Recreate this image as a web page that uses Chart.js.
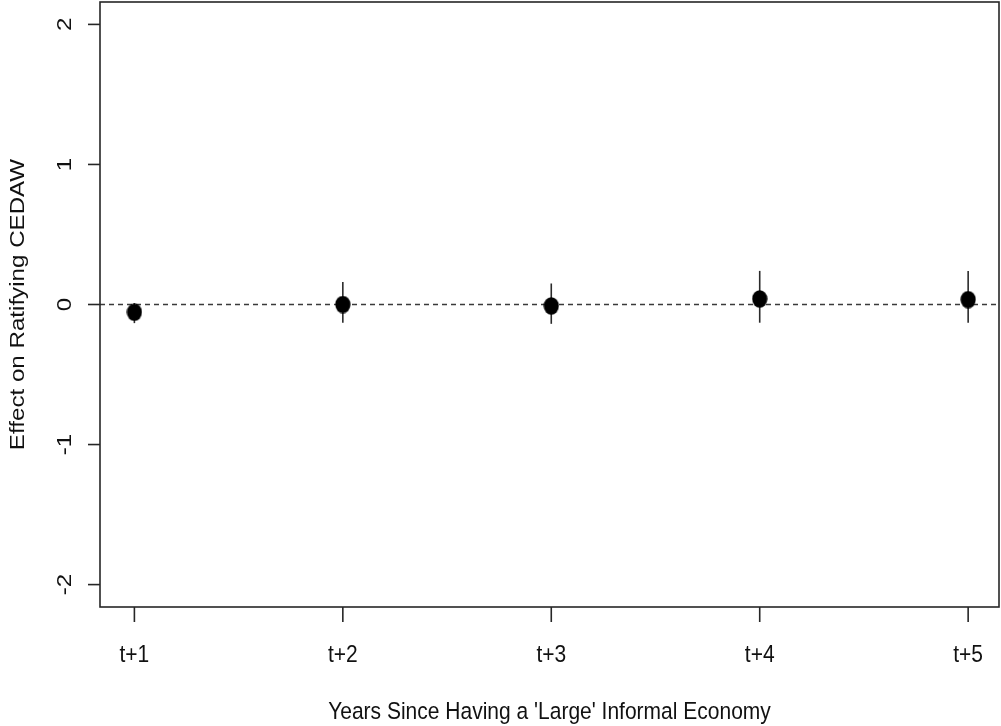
<!DOCTYPE html>
<html>
<head>
<meta charset="utf-8">
<title>Effect on Ratifying CEDAW</title>
<script src="https://cdn.jsdelivr.net/npm/chart.js@4.4.1/dist/chart.umd.min.js"></script>
<style>
  html, body { margin: 0; padding: 0; background: #ffffff; }
  #wrap { width: 1001px; height: 726px; }
</style>
</head>
<body>
<div id="wrap"><canvas id="chart" width="1001" height="726"></canvas></div>
<script>
// Years after the informal economy became "large"
const categories = ['t+1', 't+2', 't+3', 't+4', 't+5'];
const xPositions = [1, 2, 3, 4, 5];

// Point estimates and interval bounds
const estimates = [-0.055, 0.0, -0.01, 0.04, 0.035];
const lowerBounds = [-0.133, -0.13, -0.138, -0.13, -0.13];
const upperBounds = [0.01, 0.16, 0.15, 0.24, 0.24];

// Axis ticks
const yTickValues = [-2, -1, 0, 1, 2];
const yTickLabels = ['-2', '-1', '0', '1', '2'];

const xTitle = "Years Since Having a 'Large' Informal Economy";
const yTitle = 'Effect on Ratifying CEDAW';

const X_MIN = 0.835, X_MAX = 5.148;
const Y_MIN = -2.16, Y_MAX = 2.16;

const FONT = '21px "Liberation Sans", Arial, Helvetica, sans-serif';
const TEXT_STRETCH = 1.15;

// Solid oval marker
function makeMarker() {
  const c = document.createElement('canvas');
  c.width = 16; c.height = 18;
  const g = c.getContext('2d');
  g.fillStyle = '#000';
  g.beginPath();
  g.ellipse(8, 9, 7.6, 8.7, 0, 0, Math.PI * 2);
  g.fill();
  return c;
}
const marker = makeMarker();

// One vertical segment per interval
const intervalSets = xPositions.map((x, i) => ({
  type: 'line',
  data: [{ x: x, y: lowerBounds[i] }, { x: x, y: upperBounds[i] }],
  borderColor: '#2b2b2b',
  borderWidth: 1.6,
  pointRadius: 0,
  order: 1
}));

// Axes, frame and labels drawn from the chart's own scales
const framePlugin = {
  id: 'frameAxes',
  afterDraw(chart) {
    const { ctx, chartArea: a, scales } = chart;
    const xs = scales.x, ys = scales.y;
    ctx.save();
    ctx.strokeStyle = '#262626';
    ctx.lineWidth = 1.6;
    ctx.strokeRect(a.left, a.top, a.right - a.left, a.bottom - a.top);

    ctx.fillStyle = '#111';
    ctx.font = FONT;

    // x ticks
    xPositions.forEach((v, i) => {
      const px = xs.getPixelForValue(v);
      ctx.beginPath();
      ctx.moveTo(px, a.bottom);
      ctx.lineTo(px, a.bottom + 15);
      ctx.stroke();
      ctx.save();
      ctx.translate(px, 662);
      ctx.scale(1, TEXT_STRETCH);
      ctx.textAlign = 'center';
      ctx.textBaseline = 'alphabetic';
      ctx.fillText(categories[i], 0, 0);
      ctx.restore();
    });

    // y ticks, labels read upward
    yTickValues.forEach((v, i) => {
      const py = ys.getPixelForValue(v);
      ctx.beginPath();
      ctx.moveTo(a.left - 12, py);
      ctx.lineTo(a.left, py);
      ctx.stroke();
      ctx.save();
      ctx.translate(71, py);
      ctx.scale(1, TEXT_STRETCH);
      ctx.rotate(-Math.PI / 2);
      ctx.textAlign = 'center';
      ctx.textBaseline = 'alphabetic';
      ctx.fillText(yTickLabels[i], 0, 0);
      ctx.restore();
    });

    // axis titles
    ctx.save();
    ctx.translate((a.left + a.right) / 2, 719);
    ctx.scale(1, TEXT_STRETCH);
    ctx.textAlign = 'center';
    ctx.textBaseline = 'alphabetic';
    ctx.fillText(xTitle, 0, 0);
    ctx.restore();

    ctx.save();
    ctx.translate(24, (a.top + a.bottom) / 2);
    ctx.scale(1, TEXT_STRETCH);
    ctx.rotate(-Math.PI / 2);
    ctx.textAlign = 'center';
    ctx.textBaseline = 'alphabetic';
    ctx.fillText(yTitle, 0, 0);
    ctx.restore();

    ctx.restore();
  }
};

new Chart(document.getElementById('chart'), {
  type: 'scatter',
  data: {
    datasets: [
      {
        label: 'Estimate',
        data: xPositions.map((x, i) => ({ x: x, y: estimates[i] })),
        pointStyle: marker,
        pointRadius: 8,
        backgroundColor: '#000',
        borderColor: '#000',
        order: 0
      },
      ...intervalSets,
      {
        type: 'line',
        label: 'Zero',
        data: [{ x: X_MIN, y: 0 }, { x: X_MAX, y: 0 }],
        borderColor: '#3a3a3a',
        borderWidth: 1.4,
        borderDash: [5, 4],
        pointRadius: 0,
        order: 2
      }
    ]
  },
  options: {
    responsive: false,
    devicePixelRatio: 1,
    animation: false,
    events: [],
    layout: { autoPadding: false, padding: { left: 100, right: 2, top: 2, bottom: 119 } },
    plugins: { legend: { display: false }, tooltip: { enabled: false } },
    scales: {
      x: { type: 'linear', min: X_MIN, max: X_MAX, display: false },
      y: { type: 'linear', min: Y_MIN, max: Y_MAX, display: false }
    }
  },
  plugins: [framePlugin]
});
</script>
</body>
</html>
